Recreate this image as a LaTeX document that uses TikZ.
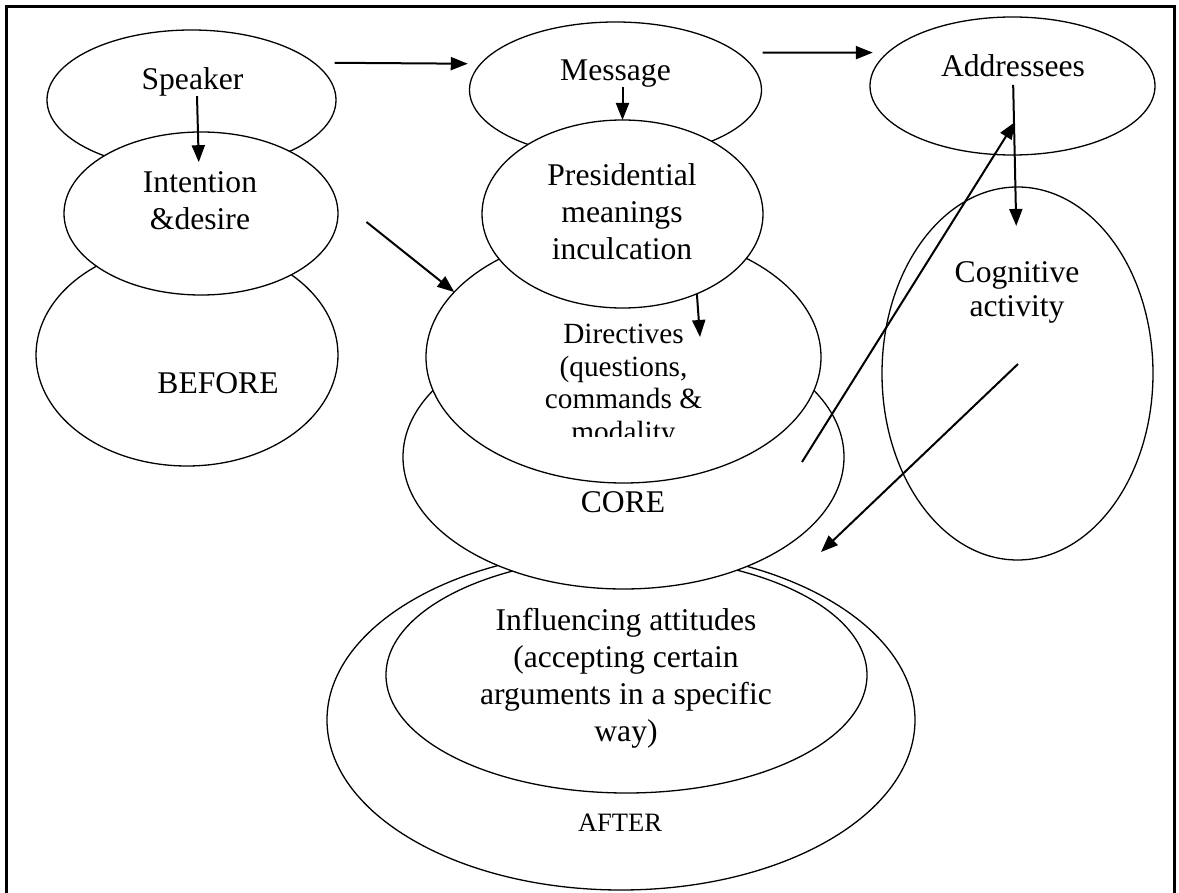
\documentclass[tikz,border=0pt]{standalone}
\usepackage{fontspec}
\setmainfont{Liberation Serif}
\usepackage{tikz}
\usetikzlibrary{arrows.meta,shapes.geometric,calc}
\tikzset{
    >={Triangle[length=17pt,width=13pt]},
    blob/.style={
        ellipse,
        draw, fill=white,
        line width=1.3pt,
        inner sep=0pt, outer sep=0pt
    },
    lbl/.style={
        align=center,
        inner sep=0pt,
        font={\fontsize{31.6pt}{37pt}\selectfont}
    },
    link/.style={->, line width=2pt},
    frame/.style={line width=3pt},
}
\begin{document}
\begin{tikzpicture}
    [
        x=1pt, y=-1pt,
        smalllbl/.style={lbl, font={\fontsize{29.3pt}{32.7pt}\selectfont}},
        tightlbl/.style={lbl, font={\fontsize{31.6pt}{34pt}\selectfont}},
        tinylbl/.style={lbl, font={\fontsize{26.5pt}{30pt}\selectfont}},
    ]
    \useasboundingbox (0,0) rectangle (1179,893);
    \draw[frame] (6,893) -- (6,7) -- (1174,7) -- (1174,893);

    % left column
    \node[blob, minimum width=289, minimum height=140] (spk) at (191.5,100) {};
    \node[lbl] (spkT) at (192.5,81.5) {Speaker};
    \node[blob, minimum width=302, minimum height=222] (bef) at (187,355) {};
    \node[lbl] (befT) at (218,383.5) {BEFORE};
    \node[blob, minimum width=274, minimum height=163] (int) at (201,213.5) {};
    \node[lbl] (intT) at (200,200.5) {Intention\\\&desire};

    % middle column
    \node[blob, minimum width=588, minimum height=340] (after) at (621,720) {};
    \node[tinylbl] (aftT) at (620,822.5) {AFTER};
    \node[blob, minimum width=481, minimum height=236] (infl) at (626.5,675) {};
    \node[lbl] (inflT) at (626,678.5) {Influencing attitudes\\(accepting certain\\arguments in a specific\\way)};
    \node[blob, minimum width=441, minimum height=264] (core) at (623.5,457) {};
    \node[lbl] (coreT) at (623,502.5) {CORE};
    \node[blob, minimum width=395, minimum height=252] (dir) at (623.5,357) {};
    \begin{scope}
        \clip (420,300) rectangle (830,437);
        \node[smalllbl] (dirT) at (623.5,386) {Directives\\(questions,\\commands \&\\modality};
    \end{scope}
    \node[blob, minimum width=292, minimum height=136] (msg) at (615.5,90) {};
    \node[lbl] (msgT) at (615.5,73.5) {Message};
    \node[blob, minimum width=281, minimum height=188] (pres) at (622.5,214) {};
    \node[lbl] (presT) at (622,211.5) {Presidential\\meanings\\inculcation};

    % right column
    \node[blob, minimum width=285, minimum height=138] (adr) at (1012.5,86) {};
    \node[lbl] (adrT) at (1013,65.5) {Addressees};
    \node[blob, minimum width=271, minimum height=373] (cog) at (1017.5,373.5) {};
    \node[tightlbl] (cogT) at (1017,292) {Cognitive\\activity};

    \coordinate (dirIn) at (700,337);
    \coordinate (coreOut) at (802,462);
    \coordinate (adrIn) at (1015,122);
    \coordinate (cogOut) at (1018,364);
    \coordinate (afterIn) at (821,552);

    \draw[link, shorten <=21pt, shorten >=13pt] (spk.17) -- (msg.169);
    \draw[link, shorten <=25pt, shorten >=15pt] (msg.17) -- (adr.165);
    \draw[link, shorten >=9pt] ([xshift=4.5pt]spkT.south) -- ([xshift=-1pt]intT.north);
    \draw[link, shorten <=40pt] (int.7) -- (dir.159);
    \draw[link] (msgT.south -| pres.north) -- (pres.north);
    \draw[link] (pres.-47) -- (dirIn);
    \draw[link] (coreOut) -- (adrIn);
    \draw[link, shorten <=8pt, shorten >=35pt] (adrT.south) -- (cogT.north);
    \draw[link] (cogOut) -- (afterIn);
\end{tikzpicture}
\end{document}
